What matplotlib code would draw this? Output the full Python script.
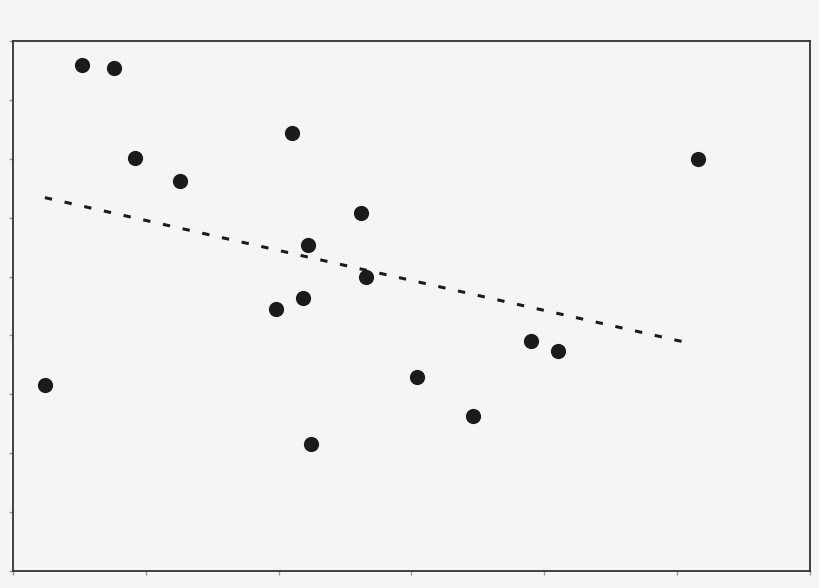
import matplotlib
matplotlib.use("Agg")
import matplotlib.pyplot as plt
import numpy as np

# scatter points
x_vals = [0.24, 0.52, 0.76, 0.92, 1.26, 2.10, 2.62, 2.22, 2.66, 2.18,
          1.98, 2.24, 5.16, 3.90, 4.10, 3.04, 3.46]
y_vals = [3.16, 8.59, 8.55, 7.02, 6.62, 7.43, 6.08, 5.54, 4.99, 4.64,
          4.45, 2.16, 7.00, 3.90, 3.74, 3.29, 2.64]

# dashed trend line end points
trend_x = [0.24, 5.07]
trend_y = [6.34, 3.88]

bg = "#f5f5f5"
fig = plt.figure(figsize=(8.2, 5.88), dpi=100, facecolor=bg)
ax = fig.add_axes([13/820, 17/588, 797/820, 530/588], facecolor=bg)

ax.scatter(x_vals, y_vals, s=120, color="#1c1a1b", zorder=3, linewidths=0)
ax.plot(trend_x, trend_y, color="#1c1a1b", lw=2.2, dashes=(2.4, 4.2), zorder=2)

ax.set_xlim(0, 6)
ax.set_ylim(0, 9)
ax.set_xticks(np.arange(0, 7))
ax.set_yticks(np.arange(0, 10))
ax.tick_params(direction="out", length=3, width=1, color="#999999",
               labelbottom=False, labelleft=False)
for sp in ax.spines.values():
    sp.set_color("#333333")
    sp.set_linewidth(1.3)

fig.savefig("out.png", dpi=100, facecolor=bg)
